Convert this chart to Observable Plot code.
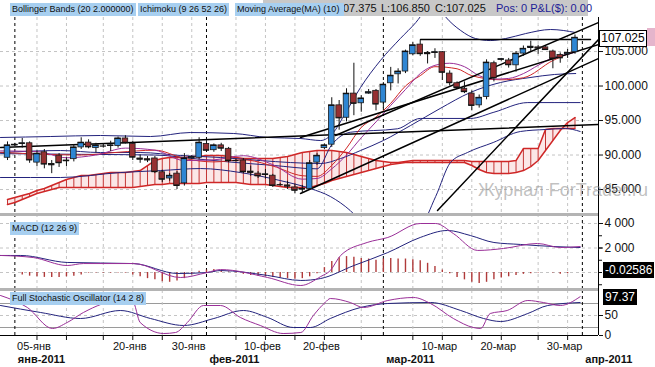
<!DOCTYPE html>
<html><head><meta charset="utf-8">
<script src="https://cdn.jsdelivr.net/npm/d3@7"></script>
<script src="https://cdn.jsdelivr.net/npm/@observablehq/plot@0.6"></script>
<style>
html,body{margin:0;padding:0;background:#fff;}
#wrap{position:relative;width:655px;height:367px;overflow:hidden;font-family:"Liberation Sans",Arial,sans-serif;}
#wrap svg{position:absolute;left:0;overflow:visible;}
.abs{position:absolute;white-space:nowrap;}
.leg{position:absolute;background:#a7cff0;color:#111;font-size:9px;line-height:13px;height:13px;padding:0 2px;white-space:nowrap;}
.sep{position:absolute;left:0;width:598px;height:3px;background:#b4b4b4;}
.vbox{position:absolute;background:#000;color:#fff;font-size:12px;line-height:16px;height:16px;padding:0 2px;white-space:nowrap;}
.hdr{position:absolute;top:1px;font-size:11px;line-height:14px;color:#111;white-space:nowrap;}
</style></head><body><div id="wrap"></div>
<script>
// ---------- data (daily CFD candles, 31 Dec 2010 – 31 Mar 2011, incl. Sunday sessions) ----------
const open = [89.6,91.4,91.6,91.7,88.9,90.4,88.7,89.9,89.1,89.4,
  91.1,91.8,91.0,91.3,91.3,91.3,92.4,91.6,89.5,89.4,
  89.5,87.5,86.6,87.3,85.9,89.5,89.6,91.6,90.7,91.4,
  90.9,89.2,89.2,87.6,87.3,87.1,87.0,85.7,85.6,85.3,
  85.0,85.1,88.9,91.0,91.5,97.2,95.4,98.9,97.5,98.9,
  99.3,97.6,100.4,101.7,102.1,104.6,106.0,104.8,104.8,104.9,
  101.8,100.4,99.6,98.9,97.2,98.4,103.3,103.8,103.7,103.0,
  104.7,105.7,105.6,105.6,105.0,104.5,104.6,104.9];
const high = [91.9,91.7,92.4,91.9,90.6,90.8,89.2,90.2,89.6,91.5,
  92.5,92.2,91.7,91.6,92.0,92.6,92.8,92.0,90.0,89.8,
  89.8,87.8,87.3,87.6,90.2,89.9,92.5,92.1,91.6,91.7,
  91.1,89.4,89.5,88.4,87.6,87.9,87.2,85.9,86.2,85.8,
  85.6,89.2,90.2,91.6,98.3,97.9,99.6,103.3,98.6,99.5,
  99.5,100.5,102.7,102.5,105.2,106.3,106.6,105.0,105.4,105.0,
  102.2,100.6,100.6,99.3,98.7,103.8,103.6,104.0,104.0,105.0,
  105.8,106.5,105.9,105.7,105.2,104.8,105.3,107.4];
const low = [89.2,91.3,91.0,88.8,88.3,88.0,87.3,88.2,88.3,89.0,
  90.8,90.9,90.3,91.0,90.5,91.0,91.6,89.2,88.8,88.9,
  87.3,86.0,86.2,85.0,85.5,89.4,89.4,90.4,90.4,90.5,
  88.9,89.0,87.3,86.9,86.6,86.5,85.3,85.5,85.0,84.4,
  84.5,84.9,88.5,90.8,91.1,93.6,94.8,95.7,96.2,98.8,
  96.4,96.8,99.3,100.3,101.8,104.4,104.3,103.2,104.0,100.8,
  100.0,99.6,98.9,96.4,96.8,98.0,100.6,103.6,102.6,102.0,
  104.3,105.0,104.6,105.2,102.5,103.3,104.0,104.6];
const close = [91.4,91.5,91.7,89.3,90.2,88.7,88.6,88.9,89.2,91.1,
  91.8,91.2,91.4,91.3,91.4,92.4,91.8,89.7,89.4,89.3,
  87.6,86.5,87.0,85.6,89.5,89.7,91.8,90.7,91.4,91.0,
  89.2,89.2,87.6,87.5,87.0,87.2,85.6,85.7,85.5,84.9,
  85.1,88.8,89.9,91.4,97.2,95.4,98.9,97.5,98.2,99.1,
  97.4,100.2,101.5,102.1,105.0,105.9,104.7,104.7,104.9,102.0,
  100.5,99.8,99.2,97.2,98.3,103.4,101.2,103.9,103.1,104.7,
  105.4,105.6,105.5,105.3,104.0,104.1,104.8,107.0];

// Ichimoku cloud spans (one value per session)
const spanA = [83.55,83.84,84.13,84.42,84.86,85.14,85.58,86.01,86.45,86.74,
  87.03,87.03,87.17,87.32,87.46,87.46,87.46,87.61,87.75,88.48,
  89.20,89.49,89.64,89.64,89.64,89.78,89.78,89.93,89.93,89.93,
  89.78,89.64,89.49,89.49,89.49,89.49,89.49,89.64,89.78,90.07,
  90.36,90.51,90.65,90.65,90.65,90.51,90.36,90.07,89.78,89.49,
  89.20,89.06,88.91,88.91,89.06,89.20,89.20,89.20,89.20,89.20,
  89.20,89.20,89.20,89.06,89.06,89.06,89.06,89.06,89.06,89.20,
  90.94,90.94,90.94,93.70,93.84,93.84,93.84,93.84];
const spanB = [82.83,83.12,83.55,83.99,84.42,84.71,85.00,85.29,85.29,85.29,
  85.29,85.29,85.29,85.29,85.29,85.29,85.29,85.29,85.43,85.58,
  85.72,85.72,85.87,85.87,85.87,85.87,85.87,86.01,86.01,86.01,
  86.01,86.01,85.87,85.72,85.72,85.72,85.58,85.43,85.29,85.29,
  85.29,85.29,85.58,85.87,86.30,86.59,86.88,87.17,87.46,87.75,
  88.04,88.33,88.62,88.77,88.91,88.91,88.91,88.91,88.91,88.91,
  88.91,88.91,88.91,88.48,87.90,87.46,87.32,87.32,87.32,87.46,
  87.75,88.33,89.20,90.65,92.10,93.55,94.71,95.43];

// indicator lines, read as [session, value]
const bbUpper = [[-0.95,92.54],[5.8,92.68],[12.6,92.83],[19.4,92.68],[24.8,93.26],[30.7,93.12],[35.3,92.54],[39.8,92.39],[42.5,92.1],[44.1,93.12],[45.9,96.16],[47.9,99.78],[50.6,103.7],[53.3,106.88],[55.4,109.2],[56.7,110.94],[58.1,111.96],[59.4,110.07],[61.5,108.04],[63.5,106.88],[65.5,106.59],[67.6,106.88],[70.3,107.6],[73.7,108.19],[77.1,107.75]];
const bbMiddle = [[-0.95,90.36],[7.2,90.65],[12.6,90.36],[18.0,90.36],[23.5,89.93],[28.9,89.64],[34.3,89.2],[38.4,88.91],[42.5,88.77],[45.2,89.49],[47.9,90.65],[51.0,92.1],[54.7,94.28],[58.7,96.74],[62.8,99.06],[66.9,100.51],[70.9,101.23],[74.2,101.67],[77.1,101.81]];
const bbLower = [[-0.95,86.74],[7.2,86.74],[15.3,87.46],[20.8,87.75],[26.2,88.04],[31.6,87.46],[37.0,86.3],[41.1,85.14],[43.8,83.99],[46.5,81.96],[48.5,79.8],[52.0,78.5],[56.0,79.7],[58.1,84.0],[60.1,88.91],[62.4,90.36],[65.9,91.81],[69.6,93.41],[73.0,93.70],[75.7,93.84],[77.7,93.41]];
const ma10 = [[-0.95,90.6],[4,90.5],[8,89.6],[12,90.0],[16,91.0],[20,90.7],[24,89.2],[28,89.3],[32,89.9],[36,88.6],[40,86.5],[42,86.6],[44,88.0],[46,90.0],[48,92.5],[50,94.8],[52,97.2],[54,99.5],[56,101.8],[58,103.0],[60,103.3],[62,102.8],[64,101.5],[66,101.0],[68,101.1],[70,101.8],[72,103.0],[74,104.1],[76,104.6],[77,104.9]];
const tenkan = [[-0.95,90.4],[5,90.1],[10,90.0],[15,90.4],[20,90.7],[24,89.5],[28,89.0],[32,89.3],[36,88.4],[40,87.0],[42,86.9],[44,88.5],[46,91.0],[48,94.0],[50,95.5],[52,97.5],[54,100.0],[56,101.5],[58,102.8],[61,102.5],[63,101.5],[67,100.9],[70,101.2],[74,103.7],[77,105.1]];
const kijun = [[-0.95,90.2],[10,90.1],[20,90.0],[26,89.4],[30,89.0],[36,88.5],[42,88.0],[44,91.5],[46.5,93.3],[52.9,93.8],[56,95.3],[62.8,95.3],[66,96.2],[70.6,97.6],[77.7,97.6]];
// hand-drawn trend lines [session, price]
const trendLines = [
  [[56.04,106.74],[79.1,106.74]],
  [[44.5,92.83],[80.19,109.2]],
  [[39.76,92.54],[80.19,106.01]],
  [[39.76,84.42],[80.19,103.99]],
  [[58.35,81.96],[80.19,106.74]],
  [[-0.95,91.09],[80.19,94.42]]
];

// MACD panel
const macdLine = [[-0.95,1.39],[3.5,1.22],[8.1,0.57],[10.3,0.73],[17.1,0.73],[23.5,-0.41],[27.1,0],[28.9,0.24],[35.3,-0.41],[39.8,-1.06],[42.5,-0.33],[43.8,0.16],[45.2,1.39],[48.8,2.45],[51.6,2.86],[56,4.0],[58.1,4.0],[60.5,3.18],[63.8,1.8],[67.3,1.96],[71.9,2.37],[75,2.04],[77.7,2.12]];
const macdSignal = [[-0.95,1.39],[1.8,1.39],[8.1,0.82],[17.1,0.73],[23.1,-0.08],[27.1,0],[28.9,0.16],[35.3,-0.24],[39.8,-0.65],[42.5,-0.49],[47.0,0.57],[51.6,1.63],[56,2.86],[59.7,3.43],[62.8,3.02],[66,2.45],[69.6,2.29],[74.1,2.12],[77.7,2.04]];
const macdHist = [0,0,-0.2,-0.3,-0.35,-0.4,-0.4,-0.4,-0.35,-0.3,
  -0.2,-0.05,-0.05,-0.05,-0.05,-0.05,-0.05,-0.2,-0.35,-0.5,
  -0.6,-0.75,-0.8,-0.7,-0.5,-0.2,0.1,0.2,0.25,0.15,
  0.05,-0.05,-0.15,-0.25,-0.3,-0.35,-0.4,-0.45,-0.5,-0.55,
  -0.5,-0.35,-0.1,0.4,0.9,1.2,1.3,1.25,1.15,1.1,
  1.0,1.1,1.15,1.1,1.1,1.05,0.95,0.75,0.5,0.2,
  -0.1,-0.4,-0.6,-0.8,-0.9,-0.8,-0.6,-0.45,-0.35,-0.25,
  -0.15,-0.1,-0.05,0,-0.05,-0.15,-0.1,0];

// Stochastic panel
const stochK = [[-0.95,100],[2.7,70],[6.1,17.5],[8.1,32.5],[10.3,57.5],[15.3,87.5],[17,85],[18,32.5],[21.2,5],[22.8,7.5],[24.4,32.5],[26.6,75],[28.9,75],[31.6,45],[34.3,25],[37.4,5],[39.8,7.5],[41.5,50],[43.1,82.5],[43.8,92.5],[46.5,82.5],[48.3,70],[51.6,87.5],[55.1,95],[57.4,80],[60.5,42.5],[63.2,20],[64.2,17.5],[65.5,55],[67.8,62.5],[70.6,87.5],[72.7,82.5],[75,75],[77.7,97]];
const stochD = [[-0.95,75],[4.5,57.5],[9.9,42.5],[15.3,62.5],[19.4,42.5],[23.9,25],[28,42.5],[32,62.5],[35.3,45],[38.8,20],[41.1,20],[43.8,42.5],[47.9,70],[51.6,80],[57.4,82.5],[61.5,62.5],[64.6,42.5],[66.9,35],[70.6,55],[73.3,75],[77.7,82.5]];

// axis labels
const dayTickDates = ["2011-01-05","2011-01-20","2011-01-30","2011-02-10","2011-02-20","2011-03-10","2011-03-20","2011-03-30"];
const dayTickLabels = ["05-янв","20-янв","30-янв","10-фев","20-фев","10-мар","20-мар","30-мар"];
const monthDates = ["2011-01-01","2011-02-01","2011-03-01","2011-04-01"];
const monthLabels = ["янв-2011","фев-2011","мар-2011","апр-2011"];
const gridDates = ["2011-01-05","2011-01-10","2011-01-15","2011-01-20","2011-01-25","2011-01-30","2011-02-05","2011-02-10","2011-02-15","2011-02-20","2011-02-25","2011-03-05","2011-03-10","2011-03-15","2011-03-20","2011-03-25","2011-03-30"];
const priceTicks = [85,90,95,100,105];
const macdTicks = [2,4];
const macdTickLabels = ["2 000","4 000"];
const stochTicks = [0,50];

// ---------- build ----------
const sessions = [];
for (let t = Date.UTC(2010,11,31); t <= Date.UTC(2011,2,31); t += 864e5) {
  if (new Date(t).getUTCDay() !== 6) sessions.push(t);
}
const slotOf = s => { const t = Date.parse(s + "T00:00:00Z"); const i = sessions.findIndex(d => d >= t); return i < 0 ? sessions.length : i; };
const gridSlots = gridDates.map(slotOf);
const monthSlots = monthDates.map(slotOf);
const daySlots = dayTickDates.map(slotOf);
const candles = open.map((o,i) => ({s:i, o, h:high[i], l:low[i], c:close[i]}));
const cloud = spanA.map((a,i) => ({s:i, a, b:spanB[i]}));

const W = 655, MR = 57;
const xCfg = {domain:[-0.95,80.19], axis:null, label:null};
const font = "Liberation Sans, Arial, sans-serif";
const base = {width:W, marginLeft:0, marginRight:MR, style:{background:"transparent", fontFamily:font, fontSize:"12px", color:"#111", overflow:"visible"}};
const wrap = document.getElementById("wrap");
const NAVY = "#23237d", PURPLE = "#9a2f98", RED = "#cf2727";
const vGrid = () => [
  Plot.ruleX(gridSlots, {stroke:"#c4c4c4", strokeDasharray:"3,3"}),
  Plot.ruleX(monthSlots, {stroke:"#000", strokeDasharray:"3,3"})
];
const pline = (data, stroke, w=1) => Plot.line(data, {x:d=>d[0], y:d=>d[1], stroke, strokeWidth:w, curve:"monotone-x", clip:true});

// main panel
const main = Plot.plot({...base, height:214, marginTop:17, marginBottom:0,
  x:xCfg, y:{domain:[81.38,109.93], axis:null, label:null},
  marks:[
    Plot.ruleY(priceTicks, {stroke:"#c4c4c4", strokeDasharray:"3,3"}),
    ...vGrid(),
    Plot.areaY(cloud, {x:"s", y1:"a", y2:"b", fill:"#fbe7e7", clip:true}),
    Plot.ruleX(cloud, {x:"s", y1:"a", y2:"b", stroke:"#c43535", strokeWidth:1, clip:true}),
    Plot.line(cloud, {x:"s", y:"a", stroke:RED, clip:true}),
    Plot.line(cloud, {x:"s", y:"b", stroke:RED, clip:true}),
    pline(bbUpper, NAVY), pline(bbMiddle, NAVY), pline(bbLower, NAVY),
    pline(kijun, NAVY), pline(tenkan, RED), pline(ma10, PURPLE),
    ...trendLines.map(t => Plot.line(t, {x:d=>d[0], y:d=>d[1], stroke:"#000", clip:true})),
    Plot.ruleX(candles, {x:"s", y1:"l", y2:"h", stroke:"#111"}),
    Plot.rect(candles, {x1:d=>d.s-0.38, x2:d=>d.s+0.38, y1:"o", y2:"c", fill:d=>d.c>=d.o?"#2f86d3":"#963032", stroke:"#1a1a1a", strokeWidth:0.8}),
    Plot.ruleY(candles, {x1:d=>d.s-0.42, x2:d=>d.s+0.42, y:"c", stroke:"#111", strokeWidth:1.2}),
    Plot.ruleX([80.19], {stroke:"#000"}),
    Plot.axisY({anchor:"right", label:null, ticks:priceTicks, tickFormat:d=>d.toFixed(3), tickSize:4, tickPadding:2, fontSize:12})
  ]});
main.style.top = "0px"; wrap.appendChild(main);

// MACD panel
const macd = Plot.plot({...base, height:76, marginTop:0, marginBottom:0,
  x:xCfg, y:{domain:[-1.469,4.735], axis:null, label:null},
  marks:[
    Plot.ruleY([0,2,4], {stroke:"#c4c4c4", strokeDasharray:"3,3"}),
    ...vGrid(),
    Plot.ruleX(macdHist.map((v,i)=>({s:i,v})), {x:"s", y1:0, y2:"v", stroke:"#b03a3a", strokeWidth:1.4}),
    pline(macdSignal, NAVY), pline(macdLine, PURPLE),
    Plot.ruleX([80.19], {stroke:"#000"}),
    Plot.axisY({anchor:"right", label:null, ticks:[-1,0,1,2,3,4], tickFormat:d=>"", tickSize:3}),
    Plot.axisY({anchor:"right", label:null, ticks:macdTicks, tickFormat:d=>macdTickLabels[macdTicks.indexOf(d)], tickSize:4, tickPadding:2, fontSize:12})
  ]});
macd.style.top = "214px"; wrap.appendChild(macd);

// Stochastic panel + date axis
const stoch = Plot.plot({...base, height:77, marginTop:0, marginBottom:32,
  x:xCfg, y:{domain:[0,112.5], axis:null, label:null},
  marks:[
    Plot.ruleY([50], {stroke:"#c4c4c4", strokeDasharray:"3,3"}),
    Plot.ruleY([20,80], {stroke:"#9a9a9a"}),
    ...vGrid(),
    pline(stochD, NAVY), pline(stochK, PURPLE),
    Plot.ruleY([0], {stroke:"#000"}),
    Plot.ruleX([80.19], {stroke:"#000"}),
    Plot.axisY({anchor:"right", label:null, ticks:stochTicks, tickSize:4, tickPadding:2, fontSize:12}),
    Plot.axisX({label:null, ticks:gridSlots, tickFormat:()=>"", tickSize:5}),
    Plot.axisX({label:null, ticks:daySlots, tickFormat:d=>dayTickLabels[daySlots.indexOf(d)], tickSize:0, tickPadding:7, fontSize:11, dx:-3}),
    Plot.text(monthLabels.map((t,i)=>({t, s:monthSlots[i]})), {x:"s", text:"t", frameAnchor:"bottom", dy:27, textAnchor:"start", dx:3, fontWeight:"bold", fontSize:11})
  ]});
stoch.style.top = "290px"; wrap.appendChild(stoch);

// overlays: separators, labels, value boxes
const add = (cls, css, txt) => { const d = document.createElement("div"); d.className = cls; d.style.cssText = css; if (txt!=null) d.textContent = txt; wrap.appendChild(d); return d; };
add("sep", "top:213px;");
add("sep", "top:288px;");
add("abs", "left:263px;top:0;width:325px;height:16px;background:#c8c8c8;");
add("hdr", "left:343px;", "07.375");
add("hdr", "left:381px;", "L:106.850");
add("hdr", "left:435px;", "C:107.025");
add("hdr", "left:496px;color:#1c1c96;", "Pos: 0 P&L($): 0.00");
add("leg", "left:10px;top:3px;", "Bollinger Bands (20 2.000000)");
add("leg", "left:138px;top:3px;", "Ichimoku (9 26 52 26)");
add("leg", "left:235px;top:3px;padding-right:5px;", "Moving Average(MA) (10)");
add("leg", "left:10px;top:222px;", "MACD (12 26 9)");
add("leg", "left:10px;top:292px;", "Full Stochastic Oscillator (14 2 8)");
add("abs", "left:478px;top:180px;font-size:18px;color:rgba(140,140,140,0.55);", "Журнал ForTrader.ru");
add("abs", "left:599px;top:30px;width:46px;height:15px;border:1px solid #000;background:#fff;font-size:12px;line-height:15px;text-align:center;", "107.025");
add("abs", "left:647px;top:28px;width:8px;height:18px;background:#e5b5cc;");
add("vbox", "left:603px;top:262px;", "-0.02586");
add("vbox", "left:603px;top:289px;", "97.37");
</script></body></html>
